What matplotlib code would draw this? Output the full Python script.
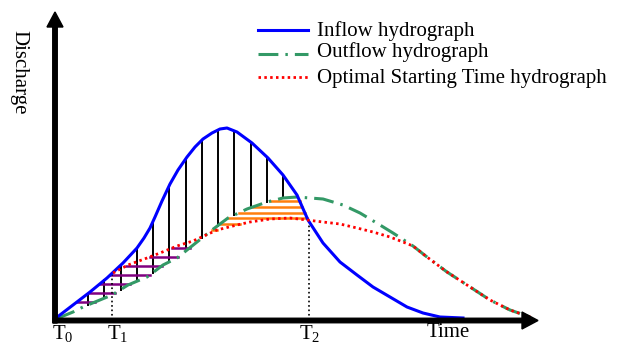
"""Inflow / outflow / optimal starting time hydrographs with hatched storage areas"""
import numpy as np
import matplotlib.pyplot as plt

plt.rcParams['font.family'] = ['Liberation Serif', 'DejaVu Serif']
plt.rcParams['mathtext.fontset'] = 'custom'
plt.rcParams['mathtext.rm'] = 'Liberation Serif'
plt.rcParams['mathtext.it'] = 'Liberation Serif:italic'

# hydrographs (time, discharge) in arbitrary units
inflow_t = [0, 17, 34, 51, 67, 81, 88, 94, 99, 106, 114, 122, 131, 139, 147, 156, 164, 171,
            181, 196, 212, 227, 241, 252, 267, 284, 301, 317, 334, 351, 367, 384, 407]
inflow_q = [2, 15, 28, 42, 57, 72, 82, 92, 103, 119, 136, 150, 163, 173, 181, 187, 191, 192,
            188, 177, 162, 145, 125, 100, 77, 58, 45, 33, 23, 13, 7, 3, 2]

outflow_t = [0, 17, 27, 39, 56, 72, 91, 107, 121, 141, 156, 172, 191, 211, 227, 241, 254,
             267, 287, 304, 324, 337, 357, 371, 391, 411, 434, 454, 477]
outflow_q = [1, 8, 13, 18, 25, 35, 43, 55, 62, 78, 90, 102, 111, 118, 122, 123, 122,
             121, 115, 107, 95, 87, 74, 63, 48, 35, 20, 10, 2]

optimal_t = [57, 72, 91, 104, 121, 137, 161, 181, 194, 214, 234, 251, 267, 284, 301, 317,
             334, 347, 357, 371, 391, 411, 434, 454, 477]
optimal_q = [47, 55, 62, 67, 74, 79, 90, 95, 98, 101, 102, 100, 98, 96, 92, 88,
             83, 78, 74, 63, 48, 35, 20, 10, 2]

T1 = 56
T2 = 253
labels = ["Inflow hydrograph", "Outflow hydrograph", "Optimal Starting Time hydrograph"]

blue = '#0000ff'
green = '#339966'
red = '#ff0000'
dashdot = (0, (6.5, 2.3, 0.8, 2.3))
dotted = (0, (0.9, 1.2))

fig = plt.figure(figsize=(6.29, 3.42), dpi=100)
ax = fig.add_axes([0, 0, 1, 1])
ax.set_xlim(-56, 573)
ax.set_ylim(-22, 320)
ax.axis('off')

# fine grid for the hatching
tt = np.linspace(0, 480, 4801)
q_in = np.interp(tt, inflow_t, inflow_q, left=np.nan, right=np.nan)
q_out = np.interp(tt, outflow_t, outflow_q, left=np.nan, right=np.nan)
q_opt = np.interp(tt, optimal_t, optimal_q, left=np.nan, right=np.nan)

# vertical hatching between inflow and outflow
for tv in 32 + 16.25 * np.arange(13):
    lo = np.interp(tv, outflow_t, outflow_q)
    hi = np.interp(tv, inflow_t, inflow_q)
    ax.plot([tv, tv], [lo, hi], color='black', lw=1.4, zorder=2)

# purple: outflow below the upper curve (inflow before T1, optimal after)
upper = np.where(tt < T1, q_in, q_opt)
rise = tt < 230
for lev in np.arange(18, 73, 9):
    left = np.interp(lev, upper[rise], tt[rise])
    right = np.interp(lev, q_out[rise], tt[rise])
    ax.plot([left, right], [lev, lev], color='#800080', lw=1.8, zorder=2)

# orange: outflow above the optimal hydrograph, below inflow
for lev in np.linspace(90, 119, 6):
    inside = (q_out >= lev) & (q_opt <= lev) & (q_in >= lev) & (tt < T2)
    seg = tt[inside]
    if len(seg):
        ax.plot([seg.min(), seg.max()], [lev, lev], color='#ff7f0e', lw=1.8, zorder=2)

ax.plot(inflow_t, inflow_q, color=blue, lw=2.2, zorder=4)
ax.plot(outflow_t, outflow_q, color=green, lw=2.2, ls=dashdot, zorder=3)
ax.plot(optimal_t, optimal_q, color=red, lw=2.0, ls=dotted, zorder=4)

# T1 and T2 markers
ax.plot([T1, T1], [0, np.interp(T1, inflow_t, inflow_q)], color='black', lw=1.2, ls=':')
ax.plot([T2, T2], [0, np.interp(T2, inflow_t, inflow_q)], color='black', lw=1.2, ls=':')

# axes arrows
ax.arrow(-1, -3, 0, 311, width=4.5, head_width=16, head_length=15,
         length_includes_head=True, fc='black', ec='black', zorder=5)
ax.arrow(-3, -0.5, 485, 0, width=4.5, head_width=17, head_length=16,
         length_includes_head=True, fc='black', ec='black', zorder=5)

ax.text(-37, 248, "Discharge", rotation=-90, fontsize=15, ha='center', va='center')
ax.text(-4, -3, r'$\mathrm{T}_0$', fontsize=15, ha='left', va='top')
ax.text(51, -3, r'$\mathrm{T}_1$', fontsize=15, ha='left', va='top')
ax.text(243, -3, r'$\mathrm{T}_2$', fontsize=15, ha='left', va='top')
ax.text(371, -3, "Time", fontsize=15, ha='left', va='top')

# legend
for y_line, y_text, col, style, lw, lab in zip([290, 266, 243], [289, 268, 242],
                                              [blue, green, red], ['-', dashdot, dotted],
                                              [2.2, 2.2, 2.0], labels):
    ax.plot([202, 252], [y_line, y_line], color=col, ls=style, lw=lw)
    ax.text(261, y_text, lab, fontsize=15, ha='left', va='center')

plt.savefig("out.png", dpi=100)
